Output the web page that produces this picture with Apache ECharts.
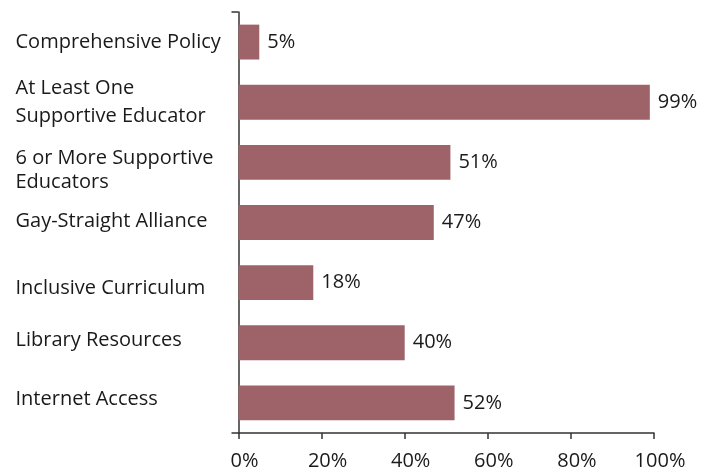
<!DOCTYPE html>
<html><head><meta charset="utf-8">
<script src="https://cdn.jsdelivr.net/npm/echarts@6/dist/echarts.min.js"></script>
<style>html,body{margin:0;padding:0;background:#fff}#c{width:709px;height:468px}</style>
</head><body><div id="c"></div>
<script>
const categories = [
  "Comprehensive Policy",
  "At Least One\nSupportive Educator",
  "6 or More Supportive\nEducators",
  "Gay-Straight Alliance",
  "Inclusive Curriculum",
  "Library Resources",
  "Internet Access"
];
const values = [5, 99, 51, 47, 18, 40, 52];
const xTicks = [0, 20, 40, 60, 80, 100];

// presentation only: per-line padding [top, bottom] of each category label line
const linePad = [
  [[0, 0]],
  [[1, 8], [0, 1]],
  [[15, 4], [0, 0]],
  [[0, 3]],
  [[11, 0]],
  [[0, 4]],
  [[0, 8]]
];

const FONT = "'Open Sans', 'DejaVu Sans', sans-serif";
const rich = {};
linePad.forEach((lines, i) => lines.forEach((p, j) => {
  rich['l' + i + '_' + j] = {
    fontSize: 20, fontFamily: FONT, color: '#1a1a1a', align: 'left',
    padding: [p[0], 0, p[1], 0]
  };
}));

const chart = echarts.init(document.getElementById('c'), null, {renderer: 'canvas'});
chart.setOption({
  animation: false,
  grid: {left: 238.5, right: 55, top: 12, bottom: 35, containLabel: false, outerBoundsMode: 'none'},
  xAxis: {
    type: 'value', min: 0, max: 100, interval: 20,
    axisLine: {show: true, lineStyle: {color: '#333', width: 1.5}},
    axisTick: {show: true, length: 6, lineStyle: {color: '#333', width: 1.5}},
    splitLine: {show: false},
    axisLabel: {formatter: v => xTicks.includes(v) ? v + '%' : '', color: '#1a1a1a', fontSize: 20, fontFamily: FONT, margin: 18, padding: [0, 0, 0, 12], hideOverlap: false}
  },
  yAxis: {
    type: 'category', data: categories, inverse: true,
    axisLine: {show: true, lineStyle: {color: '#333', width: 1.5}},
    axisTick: {show: true, length: 7, interval: i => i === 0, lineStyle: {color: '#333', width: 1.5}},
    axisLabel: {
      align: 'left', margin: 223, color: '#1a1a1a', fontSize: 20, fontFamily: FONT,
      formatter: (v, i) => v.split('\n').map((ln, j) => '{l' + i + '_' + j + '|' + ln + '}').join('\n'),
      rich: rich
    }
  },
  series: [{
    type: 'bar', data: values, barWidth: '58%',
    itemStyle: {color: '#9e6369'},
    label: {show: true, position: 'right', distance: 8, formatter: p => p.value + '%', color: '#1a1a1a', fontSize: 20, fontFamily: FONT}
  }]
});
</script></body></html>
